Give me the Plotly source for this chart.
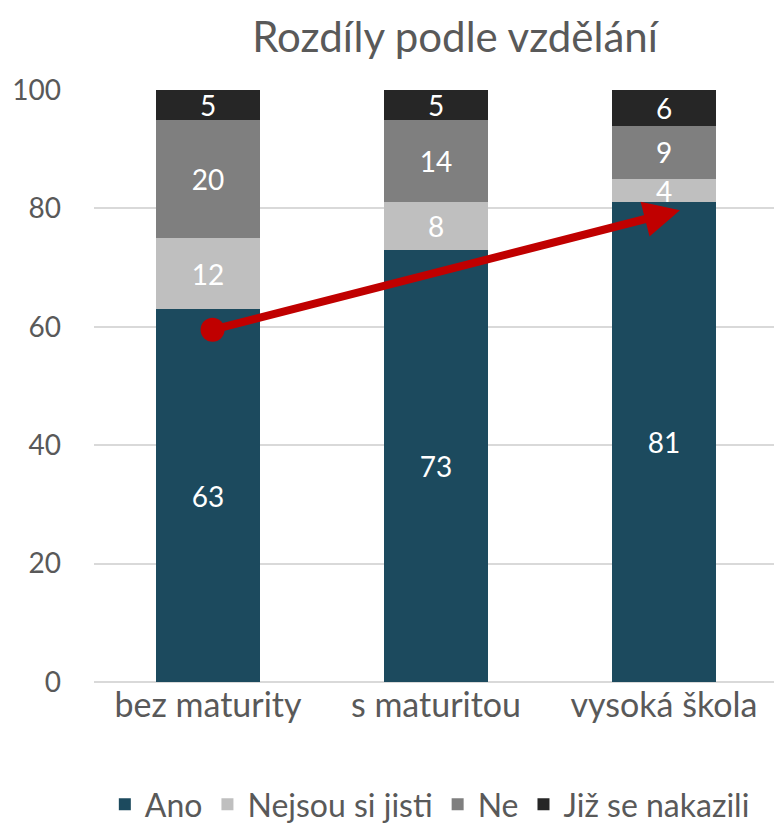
import plotly.graph_objects as go

# data
categories = ["bez maturity", "s maturitou", "vysoká škola"]
ano = [63, 73, 81]
nejsou = [12, 8, 4]
ne = [20, 14, 9]
nakazili = [5, 5, 6]

series_names = ["Ano", "Nejsou si jisti", "Ne", "Již se nakazili"]
series_values = [ano, nejsou, ne, nakazili]
series_colors = ["#1c4a5e", "#bfbfbf", "#7f7f7f", "#262626"]

# red trend arrow: start and end (category index, value)
arrow_start = (0.02, 59.5)
arrow_end = (2.07, 79.7)

font_family = "Lato, Noto Sans, sans-serif"
grey = "#595959"

fig = go.Figure()
for name, vals, col in zip(series_names, series_values, series_colors):
    fig.add_trace(go.Bar(
        x=list(range(len(categories))), y=vals, name=name,
        marker=dict(color=col, line_width=0),
        text=vals, textposition="inside", insidetextanchor="middle", textangle=0,
        textfont=dict(color="white", size=28, family=font_family),
        constraintext="none", width=0.456,
    ))

# start dot of the arrow
fig.add_trace(go.Scatter(
    x=[arrow_start[0]], y=[arrow_start[1]], mode="markers",
    marker=dict(color="#c00000", size=24), showlegend=False, hoverinfo="skip",
))
fig.add_annotation(
    x=arrow_end[0], y=arrow_end[1], ax=arrow_start[0], ay=arrow_start[1],
    xref="x", yref="y", axref="x", ayref="y", text="",
    showarrow=True, arrowhead=2, arrowsize=0.9, arrowwidth=8, arrowcolor="#c00000",
)

# page body has an 8px margin, so the figure is 8px smaller than the window
fig.update_layout(
    width=774, height=824,
    barmode="stack",
    plot_bgcolor="white", paper_bgcolor="white",
    margin=dict(l=86, r=4, t=82, b=150),
    font=dict(family=font_family, color=grey, size=28),
    title=dict(text="Rozdíly podle vzdělání", x=0.5775, xanchor="center",
               y=0.965, yanchor="middle", font=dict(size=42, color=grey)),
    legend=dict(orientation="h", xref="container", yref="container",
                x=0.545, xanchor="center", y=0.0, yanchor="bottom",
                font=dict(size=32, color=grey), traceorder="normal",
                itemwidth=30, tracegroupgap=0),
    showlegend=True,
)
fig.update_xaxes(
    tickvals=list(range(len(categories))), ticktext=categories,
    range=[-0.5, 2.5], showgrid=False, showline=False, ticks="",
    tickfont=dict(size=34, color=grey), automargin=False,
)
fig.update_yaxes(
    range=[0, 100], dtick=20, showgrid=True, gridcolor="#d9d9d9", gridwidth=2,
    zeroline=True, zerolinecolor="#d9d9d9", zerolinewidth=2,
    showline=False, ticks="", ticklabelstandoff=32,
    tickfont=dict(size=28, color=grey), automargin=False,
)

fig.write_html("out.html")
